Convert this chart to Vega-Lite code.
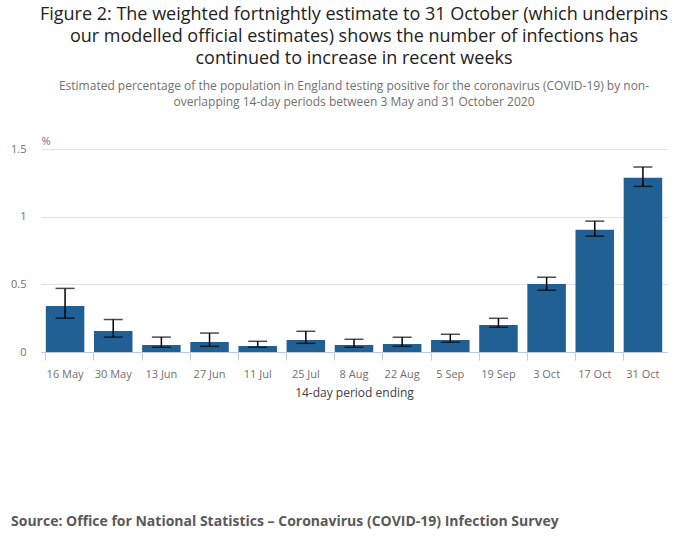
{
  "$schema": "https://vega.github.io/schema/vega-lite/v6.json",
  "background": "white",
  "padding": {"left": 10, "top": 6, "right": 10, "bottom": 5},
  "config": {
    "font": "Open Sans",
    "view": {"stroke": null},
    "concat": {"spacing": 116}
  },
  "vconcat": [
    {
      "width": 626,
      "height": 203,
      "title": {
        "text": ["Figure 2: The weighted fortnightly estimate to 31 October (which underpins", "our modelled official estimates) shows the number of infections has", "continued to increase in recent weeks"],
        "subtitle": ["Estimated percentage of the population in England testing positive for the coronavirus (COVID-19) by non-", "overlapping 14-day periods between 3 May and 31 October 2020"],
        "anchor": "middle",
        "frame": "group",
        "fontSize": 18,
        "fontWeight": "normal",
        "color": "#222222",
        "lineHeight": 22,
        "subtitleFontSize": 12,
        "subtitleColor": "#707070",
        "subtitleLineHeight": 16,
        "subtitlePadding": 13,
        "offset": 27
      },
      "data": {
        "values": [
          {"period": "16 May", "estimate": 0.34, "lower": 0.25, "upper": 0.47},
          {"period": "30 May", "estimate": 0.155, "lower": 0.11, "upper": 0.24},
          {"period": "13 Jun", "estimate": 0.052, "lower": 0.035, "upper": 0.11},
          {"period": "27 Jun", "estimate": 0.074, "lower": 0.042, "upper": 0.14},
          {"period": "11 Jul", "estimate": 0.044, "lower": 0.035, "upper": 0.079},
          {"period": "25 Jul", "estimate": 0.089, "lower": 0.064, "upper": 0.153},
          {"period": "8 Aug", "estimate": 0.052, "lower": 0.035, "upper": 0.094},
          {"period": "22 Aug", "estimate": 0.059, "lower": 0.042, "upper": 0.109},
          {"period": "5 Sep", "estimate": 0.089, "lower": 0.072, "upper": 0.131},
          {"period": "19 Sep", "estimate": 0.2, "lower": 0.183, "upper": 0.249},
          {"period": "3 Oct", "estimate": 0.503, "lower": 0.456, "upper": 0.553},
          {"period": "17 Oct", "estimate": 0.903, "lower": 0.856, "upper": 0.967},
          {"period": "31 Oct", "estimate": 1.288, "lower": 1.224, "upper": 1.367}
        ]
      },
      "encoding": {
        "x": {
          "field": "period",
          "type": "nominal",
          "sort": null,
          "scale": {"paddingInner": 0.2, "paddingOuter": 0.1},
          "axis": {
            "title": "14-day period ending",
            "titleFontSize": 12,
            "titleFontWeight": "normal",
            "titleColor": "#414042",
            "titlePadding": 8,
            "labelAngle": 0,
            "labelFontSize": 11,
            "labelColor": "#707070",
            "labelPadding": 8,
            "domainColor": "#bec9e0",
            "tickColor": "#bec9e0",
            "tickSize": 8,
            "bandPosition": 0
          }
        }
      },
      "layer": [
        {
          "mark": {"type": "bar", "color": "#206095"},
          "encoding": {
            "y": {
              "field": "estimate",
              "type": "quantitative",
              "scale": {"domain": [0, 1.5], "nice": false},
              "axis": {
                "values": [0, 0.5, 1, 1.5],
                "format": "~g",
                "title": "%",
                "titleAngle": 0,
                "titleAlign": "left",
                "titleBaseline": "bottom",
                "titleX": 0,
                "titleY": -3,
                "titleFontSize": 11,
                "titleFontWeight": "normal",
                "titleColor": "#707070",
                "labelFontSize": 11,
                "labelColor": "#707070",
                "labelPadding": 15,
                "ticks": false,
                "domain": false,
                "gridColor": "#e2e2e2",
                "gridWidth": 1
              }
            }
          }
        },
        {
          "mark": {"type": "rule", "color": "#000000", "strokeWidth": 1.5},
          "encoding": {
            "y": {"field": "lower", "type": "quantitative"},
            "y2": {"field": "upper"}
          }
        },
        {
          "mark": {"type": "tick", "color": "#000000", "size": 19, "thickness": 1.5},
          "encoding": {"y": {"field": "lower", "type": "quantitative"}}
        },
        {
          "mark": {"type": "tick", "color": "#000000", "size": 19, "thickness": 1.5},
          "encoding": {"y": {"field": "upper", "type": "quantitative"}}
        }
      ]
    },
    {
      "width": 626,
      "height": 1,
      "data": {"values": [{}]},
      "mark": {"type": "text", "text": ""},
      "title": {
        "text": "Source: Office for National Statistics – Coronavirus (COVID-19) Infection Survey",
        "anchor": "start",
        "frame": "bounds",
        "fontSize": 14,
        "fontWeight": "bold",
        "color": "#595959",
        "dx": -30
      }
    }
  ]
}
